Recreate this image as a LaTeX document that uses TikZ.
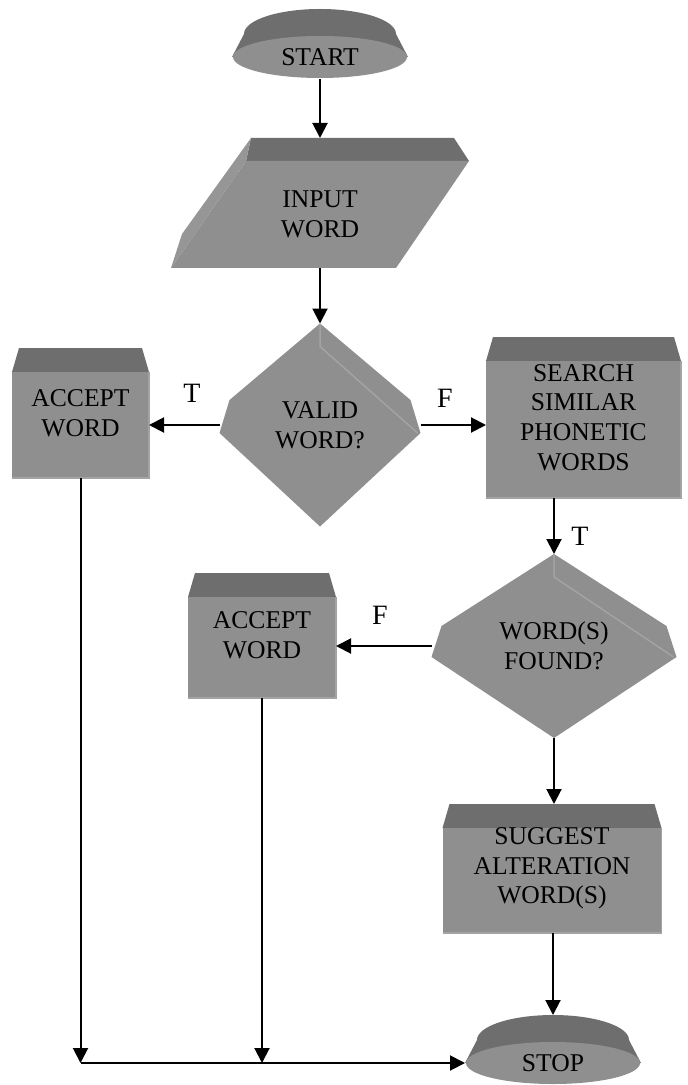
\documentclass[tikz,border=0pt]{standalone}
\usepackage{fontspec}
\setmainfont{Liberation Serif}
\usetikzlibrary{arrows.meta,calc,backgrounds,shapes.geometric}
\definecolor{face}{RGB}{143,143,143}
\definecolor{strip}{RGB}{110,110,110}
\definecolor{side}{RGB}{150,150,150}
\definecolor{ridge}{RGB}{163,163,163}
% grey 3d faces behind the named nodes
\newcommand{\boxbg}[1]{%
  \fill[strip] ($(#1.north west)+(7,0)$) -- ($(#1.north east)+(-7,0)$) -- ($(#1.north east)+(0,24)$) -- ($(#1.north west)+(0,24)$) -- cycle;
  \fill[face] ($(#1.north west)+(0,24)$) rectangle (#1.south east);
  \draw[ridge,line width=.75pt] ($(#1.north east)+(0,24)$) -- (#1.south east) -- (#1.south west);}
\newcommand{\termbg}[1]{%
  \fill[strip] ($(#1.center)+(0,-23)$) ellipse [x radius=76, y radius=25];
  \fill[strip] ($(#1.center)+(-76,-23)$) -- (#1.west) -- (#1.east) -- ($(#1.center)+(76,-23)$) -- cycle;}

\begin{document}
\begin{tikzpicture}[x=0.5pt,y=-0.5pt,line width=1pt,>={Triangle[length=7.5pt,width=7.5pt]},
  font=\fontsize{12.8}{14.8}\selectfont,
  term/.style={ellipse,fill=face,minimum width=87pt,minimum height=21pt,inner sep=0},
  box/.style={rectangle,inner sep=0,align=center},
  dec/.style={diamond,aspect=1.3,inner sep=0,align=center},
  lbl/.style={font=\fontsize{14}{16}\selectfont,inner sep=0}]
\useasboundingbox (0,0) rectangle (688,1085);
\node[term] (start) at (320,57) {START};
\node[box,minimum width=148pt,minimum height=52.5pt] (in) at (320,214.5) {INPUT\\WORD};
\coordinate (intop) at ($(in.north)+(0,-23)$);
\node[dec,minimum width=99.5pt,minimum height=100.5pt] (valid) at (320,425) {VALID\\WORD?};
\node[box,minimum width=67.5pt,minimum height=64pt] (acc1) at (80.5,413) {ACCEPT\\WORD};
\node[box,minimum width=96.5pt,minimum height=79.5pt] (search) at (583.5,417.5) {SEARCH\\SIMILAR\\PHONETIC\\WORDS};
\node[dec,minimum width=121.5pt,minimum height=91pt] (found) at (554,646) {WORD(S)\\FOUND?};
\node[box,minimum width=73pt,minimum height=61.5pt] (acc2) at (262,635.5) {ACCEPT\\WORD};
\node[box,minimum width=108.5pt,minimum height=63.5pt] (sugg) at (552,868.5) {SUGGEST\\ALTERATION\\WORD(S)};
\node[term] (stop) at (553,1063) {STOP};
\coordinate (stoptop) at ($(stop.center)+(0,-48)$);
\coordinate (j1) at (acc1.south |- stop.west);
\coordinate (j2) at (acc2.south |- stop.west);
\begin{scope}[on background layer]
  \termbg{start}\termbg{stop}
  \boxbg{acc1}\boxbg{acc2}\boxbg{search}\boxbg{sugg}
  % input parallelogram
  \fill[strip] ($(in.north west)+(80,-23)$) -- ($(in.north east)+(-15,-23)$) -- (in.north east) -- ($(in.north west)+(75,0)$) -- cycle;
  \fill[face] ($(in.north west)+(75,0)$) -- (in.north east) -- ($(in.south east)+(-73,0)$) -- (in.south west) -- cycle;
  \fill[side] ($(in.north west)+(80,-23)$) -- ($(in.north west)+(75,0)$) -- (in.south west) -- ($(in.south west)+(11,-34)$) -- cycle;
  % decisions
  \foreach \d/\up/\lo in {valid/25/8,found/20/11}{
    \fill[face] (\d.north) -- ($(\d.west)+(10,-\up)$) -- ($(\d.west)+(0,\lo)$) -- (\d.south)
      -- ($(\d.east)+(0,\lo)$) -- ($(\d.east)+(-10,-\up)$) -- cycle;
    \draw[ridge,line width=.75pt] (\d.north) -- ++(0,23) -- ($(\d.east)+(-3,\lo)$);}
\end{scope}
\draw[->] (start) -- (intop);
\draw[->] (in) -- (valid);
\draw[->] (valid.west) -- (valid.west -| acc1.east);
\draw[->] (valid.east) -- (valid.east -| search.west);
\draw[->] (found.north |- search.south) -- (found.north);
\draw[->] (found.west) -- (found.west -| acc2.east);
\draw[->] (found.south) -- (found.south |- sugg.north);
\draw[->] (sugg.south -| stoptop) -- (stoptop);
\draw[->] (acc1) -- (j1);
\draw[->] (acc2) -- (j2);
\draw[->] (j1) -- (stop);
\node[lbl] (t1) at (192,393) {T};
\node[lbl] (f1) at (445,398) {F};
\node[lbl] (t2) at (580,536) {T};
\node[lbl] (f2) at (380,615) {F};
\end{tikzpicture}
\end{document}
